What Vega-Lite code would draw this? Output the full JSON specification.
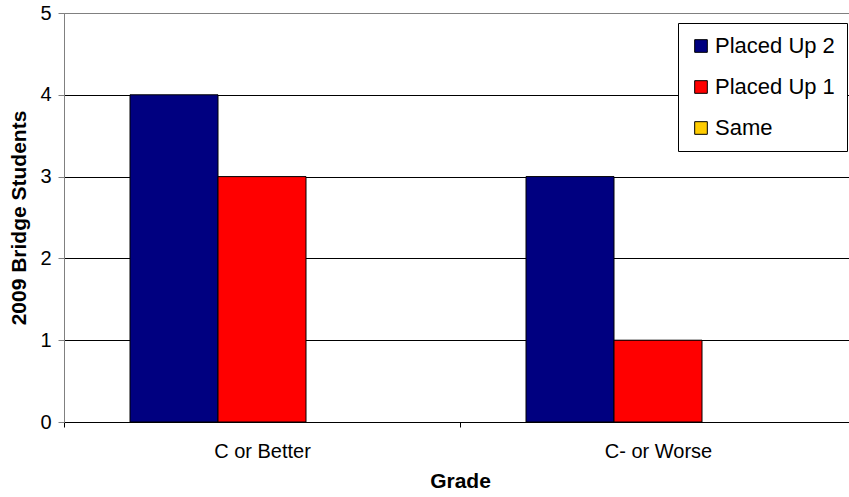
{
  "$schema": "https://vega.github.io/schema/vega-lite/v6.json",
  "width": 792,
  "height": 409,
  "autosize": {"type": "none"},
  "padding": {"left": 64, "top": 13, "right": 0, "bottom": 75},
  "background": "white",
  "config": {
    "font": "Liberation Sans",
    "view": {"stroke": "#808080", "strokeWidth": 1}
  },
  "data": {
    "values": [
      {"Grade": "C or Better", "Series": "Placed Up 2", "Students": 4},
      {"Grade": "C or Better", "Series": "Placed Up 1", "Students": 3},
      {"Grade": "C- or Worse", "Series": "Placed Up 2", "Students": 3},
      {"Grade": "C- or Worse", "Series": "Placed Up 1", "Students": 1}
    ]
  },
  "mark": {"type": "bar", "stroke": "black", "strokeWidth": 1},
  "encoding": {
    "x": {
      "field": "Grade",
      "type": "nominal",
      "sort": ["C or Better", "C- or Worse"],
      "scale": {"paddingInner": 0, "paddingOuter": 0},
      "axis": {
        "title": "Grade",
        "titleFont": "Liberation Sans",
        "titleFontSize": 21,
        "titleFontWeight": "bold",
        "titleColor": "black",
        "titlePadding": 9,
        "labelAngle": 0,
        "labelFontSize": 20,
        "labelColor": "black",
        "labelPadding": 14,
        "tickBand": "extent",
        "tickSize": 5,
        "tickColor": "black",
        "domainColor": "black",
        "grid": false
      }
    },
    "xOffset": {
      "field": "Series",
      "type": "nominal",
      "scale": {"domain": ["Placed Up 2", "Placed Up 1", "Same"], "paddingInner": 0, "paddingOuter": 0.75}
    },
    "y": {
      "field": "Students",
      "type": "quantitative",
      "scale": {"domain": [0, 5]},
      "axis": {
        "title": "2009 Bridge Students",
        "titleFont": "Liberation Sans",
        "titleFontSize": 21,
        "titleFontWeight": "bold",
        "titleColor": "black",
        "titlePadding": 10,
        "values": [0, 1, 2, 3, 4, 5],
        "labelFontSize": 20,
        "labelColor": "black",
        "labelPadding": 7,
        "tickSize": 6,
        "tickColor": "#808080",
        "domainColor": "#808080",
        "grid": true,
        "gridColor": {"condition": {"test": "datum.value === 5", "value": "#808080"}, "value": "black"},
        "gridWidth": 1
      }
    },
    "color": {
      "field": "Series",
      "type": "nominal",
      "scale": {
        "domain": ["Placed Up 2", "Placed Up 1", "Same"],
        "range": ["#000080", "#FF0000", "#FFCC00"]
      },
      "legend": {
        "title": null,
        "orient": "none",
        "legendX": 614,
        "legendY": 10,
        "symbolType": "square",
        "symbolSize": 160,
        "symbolStrokeColor": "black",
        "symbolStrokeWidth": 1,
        "labelFontSize": 22,
        "labelColor": "black",
        "labelOffset": 3,
        "rowPadding": 19,
        "padding": 12,
        "strokeColor": "black",
        "fillColor": "white",
        "labelLimit": 200
      }
    }
  }
}
